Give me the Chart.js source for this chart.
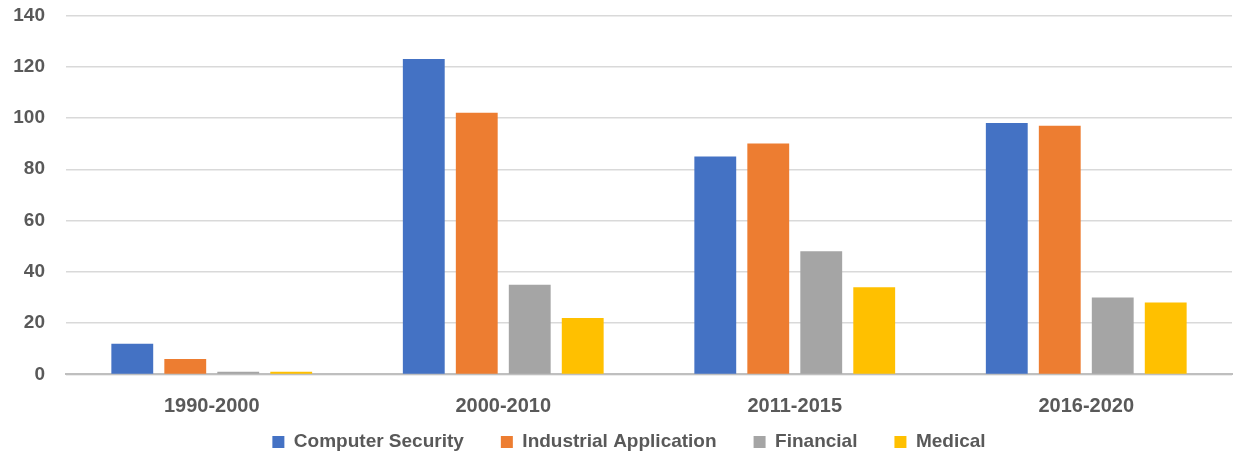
<!DOCTYPE html>
<html>
<head>
<meta charset="utf-8">
<script src="https://cdn.jsdelivr.net/npm/chart.js@4"></script>
<style>
  html, body { margin: 0; padding: 0; background: #fff; }
  #wrap { width: 1238px; height: 460px; position: relative; overflow: hidden; }
  /* canvas is a little taller than the window so the plot area lines up */
  #box { position: absolute; left: 0; top: -17.4px; width: 1238px; height: 521.4px; }
</style>
</head>
<body>
<div id="wrap"><div id="box"><canvas id="chart"></canvas></div></div>
<script>
// --- DATA ---
const periods = ['1990-2000', '2000-2010', '2011-2015', '2016-2020'];
const computerSecurity = [12, 123, 85, 98];
const industrialApplication = [6, 102, 90, 97];
const financial = [1, 35, 48, 30];
const medical = [1, 22, 34, 28];
const yTicks = [0, 20, 40, 60, 80, 100, 120, 140];

const FONT = "'Liberation Sans', Arial, sans-serif";
const TEXT = '#595959';

function series(label, data, color) {
    return {
        label: label,
        data: data,
        backgroundColor: color,
        borderWidth: 0,
        categoryPercentage: 0.727,
        barPercentage: 0.79
    };
}

// move the legend up closer to the axis labels (keeps the wide item gaps)
const legendShift = {
    id: 'legendShift',
    afterLayout(chart) {
        const lg = chart.legend;
        lg.top -= 43; lg.bottom -= 43;
        lg.left += 13; lg.right += 13;
    }
};

new Chart(document.getElementById('chart'), {
    type: 'bar',
    data: {
        labels: periods,
        datasets: [
            series('Computer Security', computerSecurity, '#4472C4'),
            series('Industrial Application', industrialApplication, '#ED7D31'),
            series('Financial', financial, '#A5A5A5'),
            series('Medical', medical, '#FFC000')
        ]
    },
    plugins: [legendShift],
    options: {
        responsive: true,
        maintainAspectRatio: false,
        animation: false,
        layout: { padding: { top: 0, right: 6, left: 0, bottom: 0 } },
        scales: {
            x: {
                grid: { display: false, drawTicks: false },
                border: { color: '#BFBFBF', width: 2 },
                ticks: { color: TEXT, font: { family: FONT, size: 20, weight: 'bold' }, padding: 20 }
            },
            y: {
                min: 0,
                max: 140,
                afterBuildTicks: (scale) => { scale.ticks = yTicks.map(v => ({ value: v })); },
                afterFit: (scale) => { scale.width = 66; },
                grid: { color: '#D9D9D9', lineWidth: 1.5, drawTicks: false },
                border: { display: false },
                ticks: { color: TEXT, font: { family: FONT, size: 19, weight: 'bold' }, padding: 21 }
            }
        },
        plugins: {
            legend: {
                position: 'bottom',
                labels: {
                    color: TEXT,
                    font: { family: FONT, size: 19, weight: 'bold' },
                    boxWidth: 12,
                    boxHeight: 12,
                    padding: 37
                }
            },
            tooltip: { enabled: false }
        }
    }
});
</script>
</body>
</html>
